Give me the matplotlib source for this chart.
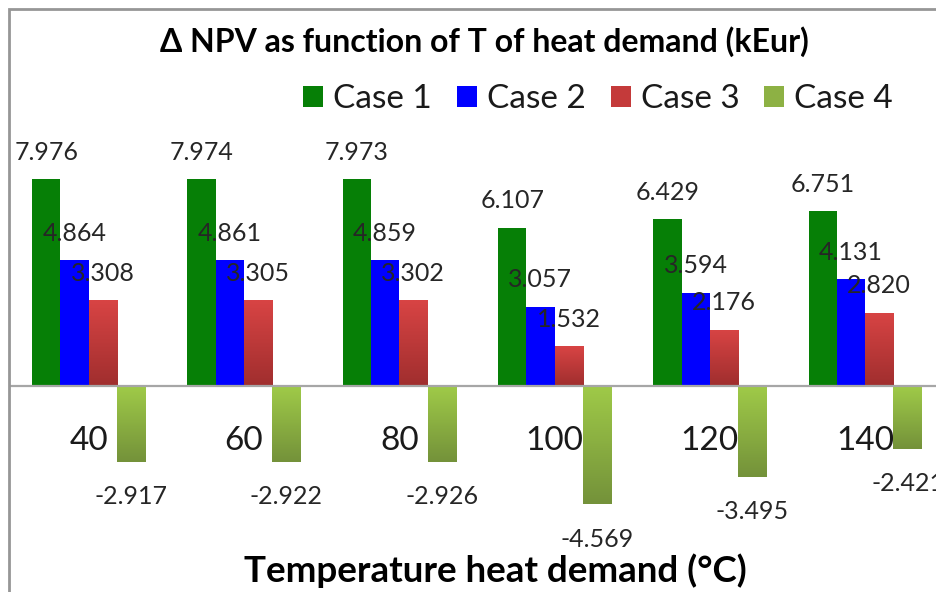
import numpy as np
import matplotlib
matplotlib.use("Agg")
import matplotlib.pyplot as plt
from matplotlib.colors import LinearSegmentedColormap
from matplotlib.patches import Rectangle

plt.rcParams['font.family'] = ['Lato', 'DejaVu Sans']

# ΔNPV (kEur) per heat demand temperature
temperatures = ["40", "60", "80", "100", "120", "140"]
case_names = ["Case 1", "Case 2", "Case 3", "Case 4"]
case1 = [7.976, 7.974, 7.973, 6.107, 6.429, 6.751]
case2 = [4.864, 4.861, 4.859, 3.057, 3.594, 4.131]
case3 = [3.308, 3.305, 3.302, 1.532, 2.176, 2.820]
case4 = [-2.917, -2.922, -2.926, -4.569, -3.495, -2.421]

series = [case1, case2, case3, case4]
flat_colors = ["#067f06", "#0000ff", "#c43a3a", "#8db144"]
# top -> bottom shading for the last two series, None means flat fill
gradients = [None, None, ("#d84444", "#a02e2e"), ("#9fca48", "#74923a")]

W, H = 936, 592
fig = plt.figure(figsize=(W / 100, H / 100), dpi=100)

# plot area: 155.3 px per category, zero line at 386 px, 25.9 px per kEur
px_unit = 25.9
y_lo, y_hi = -6, 9
zero_px = 386
ax_left = 11 / W
ax_width = 6 * 155.3 / W
ax_bottom = (H - (zero_px - y_lo * px_unit)) / H
ax_height = (y_hi - y_lo) * px_unit / H
ax = fig.add_axes([ax_left, ax_bottom, ax_width, ax_height])

# axis line through zero (set before the tick labels, it resets the ticks)
for s in ["top", "right", "left"]:
    ax.spines[s].set_visible(False)
ax.spines["bottom"].set_position(("data", 0))
ax.spines["bottom"].set_color("#a6a6a6")
ax.spines["bottom"].set_linewidth(1.6)
ax.patch.set_alpha(0)

x = np.arange(len(temperatures))
bw = 0.182
for i, (vals, name) in enumerate(zip(series, case_names)):
    bars = ax.bar(x + (i - 1.5) * bw, vals, bw, color=flat_colors[i],
                  label=name, zorder=2)
    if gradients[i] is not None:
        cmap = LinearSegmentedColormap.from_list("g%d" % i, list(gradients[i]))
        grad = np.linspace(0, 1, 64).reshape(-1, 1)
        for p in bars.patches:
            x0, y0 = p.get_x(), p.get_y()
            x1, y1 = x0 + p.get_width(), y0 + p.get_height()
            im = ax.imshow(grad, cmap=cmap, origin="upper", aspect="auto",
                           extent=(x0, x1, min(y0, y1), max(y0, y1)),
                           zorder=2.1)
            im.set_clip_path(p)
    for xi, v in zip(bars.patches, vals):
        cx = xi.get_x() + xi.get_width() / 2
        off = 27 if v >= 0 else -35
        ax.annotate("%.3f" % v, (cx, v), xytext=(0, off),
                    textcoords="offset pixels", ha="center", va="center",
                    fontsize=18, color="#262626", zorder=5)

ax.set_xlim(-0.5, len(temperatures) - 0.5)
ax.set_ylim(y_lo, y_hi)
ax.set_xticks(x)
ax.set_xticklabels(temperatures)
ax.tick_params(axis="x", length=0, pad=29, labelsize=24, labelcolor="#1a1a1a")
ax.set_yticks([])

# chart frame
fig.patches.append(Rectangle((9 / W, -0.05), 1.1, 1 - 9 / H + 0.05,
                             transform=fig.transFigure, fill=False,
                             edgecolor="#969696", linewidth=2))

fig.text(484 / W, 1 - 42 / H, "Δ NPV as function of T of heat demand (kEur)",
         ha="center", va="center", fontsize=23, fontweight="bold")
fig.text(495 / W, 1 - 571 / H, "Temperature heat demand (°C)",
         ha="center", va="center", fontsize=26.5, fontweight="bold")

handles, labels = ax.get_legend_handles_labels()
fig.legend(handles, labels, loc="center", bbox_to_anchor=(598 / W, 1 - 99 / H),
           ncol=4, frameon=False, fontsize=24, handlelength=0.6,
           handleheight=0.6, handletextpad=0.3, columnspacing=0.75,
           borderpad=0, labelcolor="#1a1a1a")

fig.savefig("out.png", dpi=100)
